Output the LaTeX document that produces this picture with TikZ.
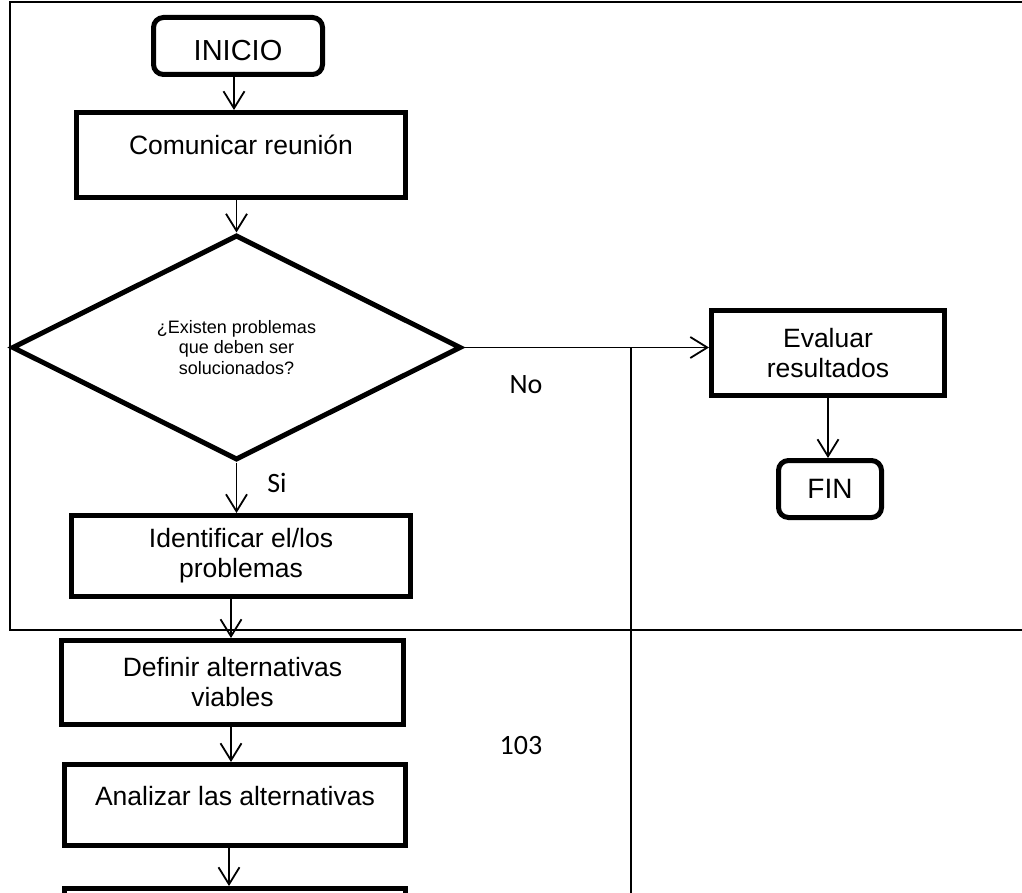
\documentclass[tikz,border=0pt]{standalone}
\usepackage{fontspec}
\setmainfont{Liberation Sans}
\newfontfamily\calibrifont{Carlito}
\usetikzlibrary{shapes.geometric,arrows.meta}
\begin{document}
\begin{tikzpicture}[x=1pt,y=-1pt,
  procbox/.style={draw, line width=5pt, inner sep=0pt, align=center,
    font=\fontsize{26.5}{30}\selectfont},
  termbox/.style={procbox, rounded corners=10pt},
  decbox/.style={draw, diamond, line width=5pt, inner sep=0pt, aspect=2,
    align=center, font=\fontsize{18}{20.5}\selectfont,
    minimum width=449pt, minimum height=225pt},
  arr/.style={line width=1.8pt, -{Straight Barb[length=17pt,width=21pt]}},
  lbl/.style={inner sep=0pt, font=\calibrifont\fontsize{28}{32}\selectfont},
  frameline/.style={line width=2pt},
  thinline/.style={line width=1.3pt}]
\useasboundingbox (0,0) rectangle (1022,893);

% frame
\draw[frameline] (1022,2) -- (10,2) -- (10,630) -- (1022,630);

% nodes
\node[termbox, minimum width=169pt, minimum height=57pt, text height=29pt, text depth=0pt,
  font=\fontsize{29}{32}\selectfont]
  (ini) at (238,46) {INICIO};
\node[procbox, minimum width=329pt, minimum height=85pt, text height=20pt, text depth=20pt]
  (com) at (241,155) {Comunicar reunión};
\node[decbox] (q) at (236.5,347.5) {¿Existen problemas\\que deben ser\\solucionados?};
\node[procbox, minimum width=233pt, minimum height=85pt] (ev) at (828,353) {Evaluar\\resultados};
\node[termbox, minimum width=103pt, minimum height=57pt, font=\fontsize{28}{32}\selectfont]
  (fin) at (830,489) {FIN};
\node[procbox, minimum width=339pt, minimum height=81pt] (ide) at (241,556) {Identificar el/los\\problemas};
\node[procbox, minimum width=342pt, minimum height=84pt] (def) at (232.5,682.5) {Definir alternativas\\viables};
\node[procbox, minimum width=341pt, minimum height=81pt, text height=20pt, text depth=20pt]
  (ana) at (235,805) {Analizar las alternativas};
\node[procbox, minimum width=341pt, minimum height=81pt] (nxt) at (235,929) {};

% labels
\node[lbl] (no) at (526,385) {No};
\node[lbl] (si) at (277,483) {Si};
\node[lbl] (pg) at (521,746) {103};

% helper columns
\coordinate (c234) at (234,0);
\coordinate (c231) at (231,0);
\coordinate (c229) at (229,0);
\coordinate (c236) at (236.5,0);

% connectors
\draw[arr] (ini.south -| c234) -- (com.north -| c234);
\draw[arr] (com.south -| c236) -- (q.north);
\draw[arr] (q.south) -- (ide.north -| c236);
\draw[arr] (ide.south -| c231) -- (def.north -| c231);
\draw[arr] (def.south -| c231) -- (ana.north -| c231);
\draw[arr] (ana.south -| c229) -- (nxt.north -| c229);
\draw[arr] (q.east) -- (q.east -| ev.west);
\draw[arr] (ev.south) -- (ev.south |- fin.north);

% vertical divider
\coordinate (jn) at (631,347.5);
\coordinate (jb) at (631,893);
\draw[thinline] (jn) -- (jb);
\end{tikzpicture}
\end{document}
